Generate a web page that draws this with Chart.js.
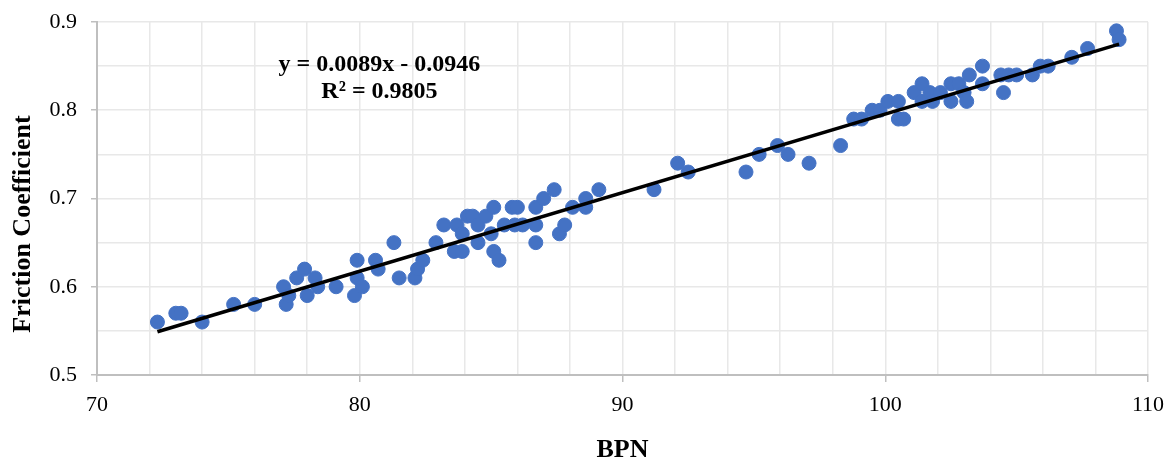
<!DOCTYPE html>
<html>
<head>
<meta charset="utf-8">
<script src="https://cdn.jsdelivr.net/npm/chart.js@4"></script>
<style>
  html, body { margin: 0; padding: 0; background: #fff; }
  #wrap { width: 1168px; height: 466px; }
</style>
</head>
<body>
<div id="wrap"><canvas id="chart-bpn"></canvas></div>
<script>
// values
const bpn = [72.3, 73.0, 73.2, 74.0, 75.2, 76.0, 77.1, 77.2, 77.3, 77.6, 77.9, 78.0, 78.3, 78.4, 79.1,
  79.9, 79.9, 79.8, 80.1, 80.6, 80.7, 81.3, 81.5, 82.1, 82.2, 82.4, 82.9, 83.2, 83.6, 83.7,
  83.9, 83.9, 84.1, 84.3, 84.5, 84.5, 84.8, 85.0, 85.1, 85.1, 85.3, 85.5, 85.8, 86.0, 85.9,
  86.2, 86.7, 86.7, 86.7, 87.0, 87.4, 87.6, 87.8, 88.1, 88.6, 88.6, 89.1, 91.2, 92.1, 92.5,
  94.7, 95.2, 95.9, 96.3, 97.1, 98.3, 98.8, 99.1, 99.5, 99.8, 100.1, 100.5, 100.5, 100.7, 101.1,
  101.4, 101.4, 101.7, 101.8, 102.1, 102.5, 102.5, 102.8, 103.0, 103.1, 103.2, 103.7, 103.7, 104.4, 104.5,
  104.7, 105.0, 105.6, 105.9, 106.2, 107.1, 107.7, 108.8, 108.9];
const friction = [0.56, 0.57, 0.57, 0.56, 0.58, 0.58, 0.60, 0.58, 0.59, 0.61, 0.62, 0.59, 0.61, 0.60, 0.60,
  0.63, 0.61, 0.59, 0.60, 0.63, 0.62, 0.65, 0.61, 0.61, 0.62, 0.63, 0.65, 0.67, 0.64, 0.67,
  0.64, 0.66, 0.68, 0.68, 0.65, 0.67, 0.68, 0.66, 0.69, 0.64, 0.63, 0.67, 0.69, 0.69, 0.67,
  0.67, 0.69, 0.67, 0.65, 0.70, 0.71, 0.66, 0.67, 0.69, 0.69, 0.70, 0.71, 0.71, 0.74, 0.73,
  0.73, 0.75, 0.76, 0.75, 0.74, 0.76, 0.79, 0.79, 0.80, 0.80, 0.81, 0.81, 0.79, 0.79, 0.82,
  0.83, 0.81, 0.82, 0.81, 0.82, 0.83, 0.81, 0.83, 0.82, 0.81, 0.84, 0.85, 0.83, 0.84, 0.82,
  0.84, 0.84, 0.84, 0.85, 0.85, 0.86, 0.87, 0.89, 0.88];

// linear trendline end points (as drawn)
const trendX = [72.3, 108.9];
const trendY = [0.549, 0.875];
const trendLabel = ['y = 0.0089x - 0.0946', 'R\u00B2 = 0.9805'];

const xTitle = 'BPN';
const yTitle = 'Friction Coefficient';

const serif = "'Liberation Serif', 'Times New Roman', serif";

const points = bpn.map(function(v, i){ return {x: v, y: friction[i]}; });
const trend = trendX.map(function(v, i){ return {x: v, y: trendY[i]}; });

// equation text and rotated y title
const extraText = {
    id: 'extraText',
    afterDatasetsDraw: function(chart){
        const c = chart.ctx;
        const xs = chart.scales.x, ys = chart.scales.y;
        c.save();
        c.fillStyle = '#000';
        c.font = 'bold 24px ' + serif;
        c.textAlign = 'center';
        c.textBaseline = 'middle';
        const cx = xs.getPixelForValue(80.75);
        const cy = ys.getPixelForValue(0.852);
        c.fillText(trendLabel[0], cx, cy);
        c.fillText(trendLabel[1], cx, cy + 27);
        c.restore();
    },
    afterDraw: function(chart){
        const c = chart.ctx;
        c.save();
        c.fillStyle = '#000';
        c.font = 'bold 26px ' + serif;
        c.textAlign = 'center';
        c.textBaseline = 'middle';
        c.translate(23, 224);
        c.rotate(-Math.PI / 2);
        c.fillText(yTitle, 0, 0);
        c.restore();
    }
};

const ctx = document.getElementById('chart-bpn').getContext('2d');
const myChart = new Chart(ctx, {
    type: 'scatter',
    data: {
        datasets: [{
            label: 'Trend',
            type: 'line',
            data: trend,
            borderColor: '#000',
            borderWidth: 3.5,
            pointRadius: 0,
            fill: false,
            order: 0
        }, {
            label: 'Friction',
            data: points,
            backgroundColor: '#4472C4',
            borderColor: '#4472C4',
            pointRadius: 7,
            pointHoverRadius: 7,
            order: 1
        }]
    },
    options: {
        responsive: true,
        maintainAspectRatio: false,
        animation: false,
        layout: { autoPadding: false, padding: { top: 22, right: 20, bottom: 0, left: 0 } },
        plugins: {
            legend: { display: false },
            tooltip: { enabled: false }
        },
        scales: {
            x: {
                type: 'linear',
                min: 70,
                max: 110,
                afterFit: function(s){ s.height = 91; s.paddingLeft = 0; s.paddingRight = 0; },
                ticks: {
                    stepSize: 2,
                    autoSkip: false,
                    maxRotation: 0,
                    padding: 10,
                    color: '#000',
                    font: { family: serif, size: 22 },
                    callback: function(v){ return v % 10 === 0 ? String(v) : ''; }
                },
                grid: {
                    color: '#e8e8e8',
                    lineWidth: 1.5,
                    tickLength: 7,
                    tickColor: function(c){ return c.tick && c.tick.value % 10 === 0 ? '#bfbfbf' : 'rgba(0,0,0,0)'; }
                },
                border: { color: '#bfbfbf', width: 2 },
                title: {
                    display: true,
                    text: xTitle,
                    color: '#000',
                    font: { family: serif, size: 26, weight: 'bold' },
                    padding: { top: 0, bottom: 0 }
                }
            },
            y: {
                min: 0.5,
                max: 0.9,
                afterFit: function(s){ s.width = 97; s.paddingTop = 0; s.paddingBottom = 0; },
                ticks: {
                    stepSize: 0.05,
                    autoSkip: false,
                    padding: 14,
                    color: '#000',
                    font: { family: serif, size: 22 },
                    callback: function(v){
                        const t = Math.round(v * 100) / 100;
                        return Math.abs(t * 10 - Math.round(t * 10)) < 1e-6 ? t.toFixed(1) : '';
                    }
                },
                grid: {
                    color: '#e8e8e8',
                    lineWidth: 1.5,
                    tickLength: 6,
                    tickColor: function(c){
                        if (!c.tick) return 'rgba(0,0,0,0)';
                        const t = Math.round(c.tick.value * 100) / 100;
                        return Math.abs(t * 10 - Math.round(t * 10)) < 1e-6 ? '#bfbfbf' : 'rgba(0,0,0,0)';
                    }
                },
                border: { color: '#bfbfbf', width: 2 }
            }
        }
    },
    plugins: [extraText]
});
</script>
</body>
</html>
